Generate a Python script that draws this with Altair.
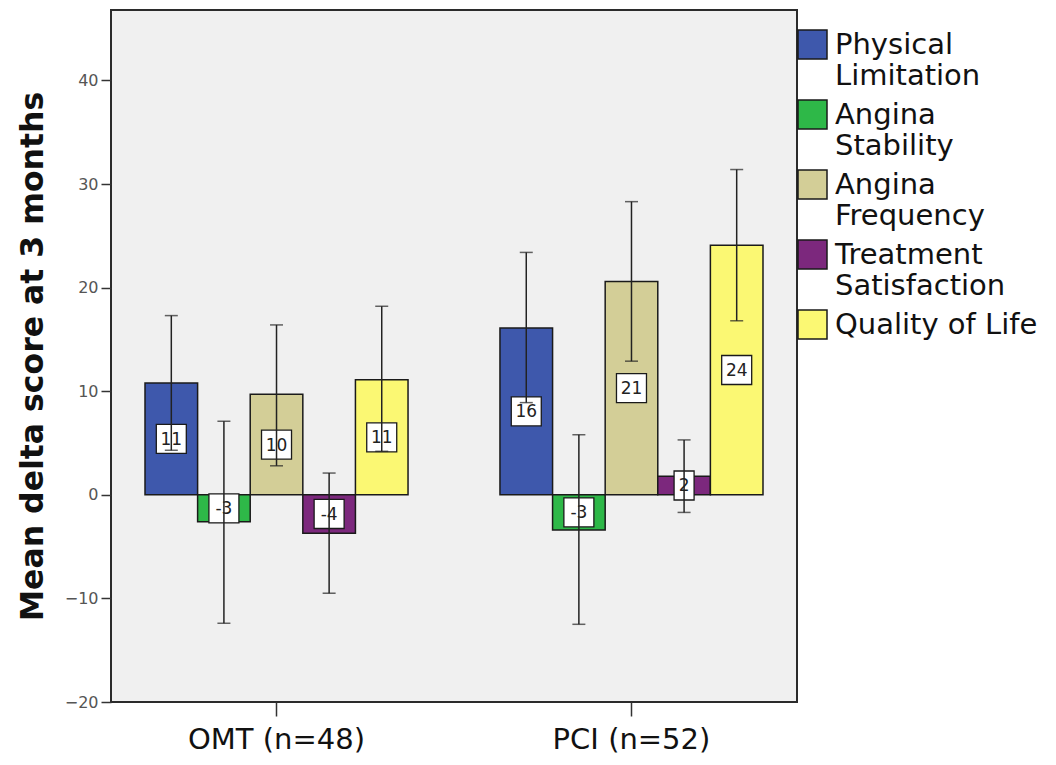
import altair as alt
import pandas as pd

groups = ["OMT (n=48)", "PCI (n=52)"]
measures = ["Physical Limitation", "Angina Stability", "Angina Frequency",
            "Treatment Satisfaction", "Quality of Life"]
colors = ["#3E58AC", "#2EB848", "#D3CE97", "#7C287D", "#FBF873"]

omt_mean = [10.8, -2.6, 9.7, -3.7, 11.1]
omt_lo = [4.3, -12.4, 2.8, -9.5, 4.2]
omt_hi = [17.3, 7.1, 16.4, 2.1, 18.2]

pci_mean = [16.1, -3.4, 20.6, 1.8, 24.1]
pci_lo = [8.9, -12.5, 12.9, -1.7, 16.8]
pci_hi = [23.4, 5.8, 28.3, 5.3, 31.4]

y_ticks = [-20, -10, 0, 10, 20, 30, 40]

rows = []
for g, means, los, his in [(groups[0], omt_mean, omt_lo, omt_hi),
                           (groups[1], pci_mean, pci_lo, pci_hi)]:
    for i, m in enumerate(measures):
        rows.append(dict(group=g, measure=m, mean=means[i], lo=los[i], hi=his[i],
                         mid=means[i] / 2, label=str(int(round(means[i])))))
df = pd.DataFrame(rows)

FONT = "DejaVu Sans"

x_enc = alt.X("group:N", sort=groups,
              scale=alt.Scale(paddingInner=0.259, paddingOuter=0.0958),
              axis=alt.Axis(title=None, labelAngle=0, labelFontSize=29, labelFont=FONT,
                            labelColor="#111", labelLimit=400,
                            tickSize=14, tickWidth=1.5, tickColor="#333",
                            labelPadding=9, domain=False, grid=False))
xo_enc = alt.XOffset("measure:N", sort=measures,
                     scale=alt.Scale(paddingInner=0, paddingOuter=0))

y_scale = alt.Scale(domain=[-20, 46.8], nice=False, zero=False)
y_axis = alt.Axis(values=y_ticks, tickSize=10, tickWidth=1.5, tickColor="#333",
                  labelPadding=3, labelFontSize=16, labelFont=FONT, labelColor="#555",
                  domain=False, grid=False,
                  title="Mean delta score at 3 months", titleFont=FONT, titleFontSize=31.5,
                  titleFontWeight="bold", titleColor="#111", titleAngle=270,
                  titleX=-69, titleY=346, titleAlign="center", titleBaseline="alphabetic")


def yq(field):
    return alt.Y(field, type="quantitative", scale=y_scale, axis=y_axis)


base = alt.Chart(df)

bars = base.mark_bar(stroke="#1a1a1a", strokeWidth=1.5).encode(
    x=x_enc, xOffset=xo_enc, y=yq("mean"), y2=alt.datum(0),
    color=alt.Color("measure:N", sort=measures,
                    scale=alt.Scale(domain=measures, range=colors),
                    legend=alt.Legend(
                        title=None, orient="none", legendX=686, legendY=19,
                        symbolType="square", symbolSize=841,
                        symbolStrokeColor="#1a1a1a", symbolStrokeWidth=1.5,
                        symbolOpacity=1,
                        labelFont=FONT, labelFontSize=29, labelColor="#111",
                        labelLimit=320, labelOffset=7, rowPadding=6, padding=0,
                        labelExpr="datum.label == 'Quality of Life' ? datum.label : split(datum.label, ' ')"))
)

wide = "M-1,-0.967H1V0.967H-1Z"
narrow = "M-0.667,-0.967H0.667V0.967H-0.667Z"

boxes = base.mark_point(filled=True, fill="white", stroke="#1a1a1a", strokeWidth=1.3,
                        size=900, opacity=1, fillOpacity=1, strokeOpacity=1).encode(
    x=x_enc, xOffset=xo_enc, y=yq("mid"),
    shape=alt.condition("length(datum.label) > 1", alt.value(wide), alt.value(narrow))
)

texts = base.mark_text(font=FONT, fontSize=17, color="#222", baseline="middle", dy=1).encode(
    x=x_enc, xOffset=xo_enc, y=yq("mid"), text="label:N"
)

rules = base.mark_rule(color="#222", strokeWidth=1.5).encode(
    x=x_enc, xOffset=xo_enc, y=yq("lo"), y2="hi:Q"
)

caps = base.transform_fold(["lo", "hi"], as_=["end", "val"]).mark_tick(
    color="#222", thickness=1.5, size=13).encode(
    x=x_enc, xOffset=xo_enc, y=yq("val")
)

chart = alt.layer(bars, boxes, texts, rules, caps).properties(
    width=686, height=692,
    background="white",
    autosize=alt.AutoSizeParams(type="none"),
    padding={"left": 103, "top": 2, "right": 245, "bottom": 52},
).configure_view(
    fill="#F0F0F0", stroke="#2b2b2b", strokeWidth=2
)

chart.save("out.html", embed_options={"renderer": "svg", "actions": False})
